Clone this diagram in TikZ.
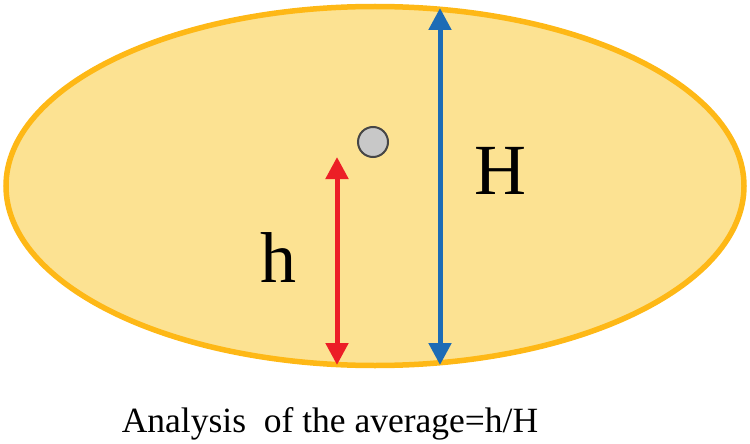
\documentclass[tikz,border=0pt]{standalone}
\usepackage{fontspec}
\setmainfont{Liberation Serif}
\usetikzlibrary{shapes.geometric,arrows.meta}
\definecolor{blobfill}{RGB}{252,226,146}
\definecolor{blobline}{RGB}{254,184,22}
\definecolor{harrow}{RGB}{28,108,182}
\definecolor{rarrow}{RGB}{236,30,38}
\definecolor{dotfill}{RGB}{200,200,200}
\definecolor{dotline}{RGB}{70,70,70}
\tikzset{
  blob/.style={ellipse, draw=blobline, fill=blobfill, line width=5.5pt, inner sep=0pt,
    minimum width=738pt, minimum height=359pt},
  measure/.style={line width=5pt, {Triangle[width=22pt,length=22pt]}-{Triangle[width=22pt,length=22pt]}},
  biglabel/.style={font=\fontsize{72}{72}\selectfont, inner sep=0pt},
  caption/.style={font=\fontsize{35.5}{35.5}\selectfont, inner sep=0pt, anchor=base}
}
\begin{document}
\begin{tikzpicture}[x=1pt,y=-1pt]
\useasboundingbox (0,0) rectangle (750,444);
\node[blob] (blob) at (375,186) {};
\node[circle, fill=dotfill, draw=dotline, line width=2pt, minimum size=30pt, inner sep=0pt] (dot) at (373,142) {};
\coordinate (Htop) at (440,8);
\coordinate (Hbot) at (440,365);
\coordinate (htop) at (337,157);
\coordinate (hbot) at (337,365);
\draw[measure, harrow] (Htop) -- (Hbot);
\draw[measure, rarrow] (htop) -- (hbot);
\node[biglabel] (Hl) at (500,171) {H};
\node[biglabel] (hl) at (278,258) {h};
\node[caption] (cap) at (330,432) {Analysis\ \ of the average=h/H};
\end{tikzpicture}
\end{document}
